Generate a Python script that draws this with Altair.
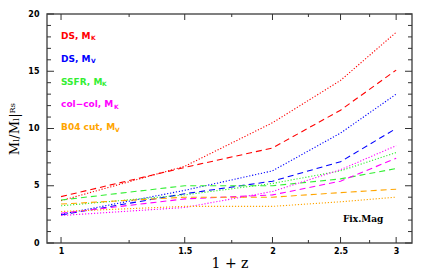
import altair as alt
import pandas as pd

zvals = [1.0, 1.5, 2.0, 2.5, 3.0]
series_names = ["DS_MK_dot", "DS_MK_dash", "DS_MV_dot", "DS_MV_dash", "SSFR_dash", "SSFR_dot",
                "col_dot", "col_dash", "B04_dash", "B04_dot"]
ds_mk_dot = [3.7, 6.7, 10.5, 14.2, 18.4]
ds_mk_dash = [4.05, 6.6, 8.3, 11.6, 15.1]
ds_mv_dot = [2.5, 4.6, 6.3, 9.6, 13.0]
ds_mv_dash = [2.45, 4.3, 5.4, 7.1, 10.0]
ssfr_dash = [3.75, 5.0, 5.0, 5.6, 6.5]
ssfr_dot = [3.25, 4.2, 5.2, 6.3, 7.9]
col_dot = [2.4, 3.1, 4.5, 6.4, 8.5]
col_dash = [2.6, 3.85, 4.2, 5.4, 7.4]
b04_dash = [3.4, 4.0, 4.0, 4.4, 4.7]
b04_dot = [2.75, 3.2, 3.2, 3.6, 4.0]
all_vals = [ds_mk_dot, ds_mk_dash, ds_mv_dot, ds_mv_dash, ssfr_dash, ssfr_dot,
            col_dot, col_dash, b04_dash, b04_dot]
colors = ["#ff0000", "#ff0000", "#0000ff", "#0000ff", "#33ee33", "#33ee33",
          "#ff00ff", "#ff00ff", "#ffa500", "#ffa500"]
dashes = [[1.2, 1.8], [6, 4], [1.2, 1.8], [6, 4], [6, 4], [1.2, 1.8],
          [1.2, 1.8], [6, 4], [6, 4], [1.2, 1.8]]

legend_main = ["DS, M", "DS, M", "SSFR, M", "col\u2212col, M", "B04 cut, M"]
legend_sub = ["K", "V", "K", "K", "V"]
legend_colors = ["#ff0000", "#0000ff", "#33ee33", "#ff00ff", "#ffa500"]
legend_y = [18.1, 16.1, 14.1, 12.1, 10.1]
legend_subdx = [30, 30, 41, 53, 54]

x_label_vals = [1, 1.5, 2, 2.5, 3]
x_tick_vals = [1, 1.25, 1.5, 1.75, 2, 2.25, 2.5, 2.75, 3]
x_major = [1, 1.5, 2, 2.5, 3]
y_tick_vals = list(range(0, 21))

W, H = 365, 229
xs = alt.Scale(type="log", domain=[0.955, 3.16], nice=False)
ys = alt.Scale(domain=[0, 20], nice=False)

rows = []
for name, vals in zip(series_names, all_vals):
    for z, v in zip(zvals, vals):
        rows.append({"s": name, "z": z, "v": v})
df = pd.DataFrame(rows)

layers = []
for name, c, d in zip(series_names, colors, dashes):
    layers.append(
        alt.Chart(df[df.s == name]).mark_line(color=c, strokeDash=d, strokeWidth=1.1)
        .encode(x=alt.X("z:Q", scale=xs), y=alt.Y("v:Q", scale=ys))
    )

base = alt.Chart(pd.DataFrame({"z": [1.0], "v": [0.0]})).mark_point(opacity=0).encode(
    x=alt.X("z:Q", scale=xs, axis=alt.Axis(values=x_label_vals, ticks=False, domain=False, grid=False,
                                            labelFont="DejaVu Sans", labelFontWeight="bold", labelFontSize=8,
                                            labelPadding=4, title="1 + z", titleFont="DejaVu Serif",
                                            titleFontSize=14, titleFontWeight="normal", titlePadding=1,
                                            format="~g", labelFlush=False)),
    y=alt.Y("v:Q", scale=ys, axis=alt.Axis(values=[0, 5, 10, 15, 20], ticks=False, domain=False, grid=False,
                                            labelFont="DejaVu Sans", labelFontWeight="bold", labelFontSize=8,
                                            labelPadding=8, title="M\u2097/M\u2097|\u1D3F\u02E2",
                                            titleFont="DejaVu Serif", titleFontSize=13,
                                            titleFontWeight="normal", titlePadding=6)),
)
layers.insert(0, base)

xt = pd.DataFrame({"z": x_tick_vals, "len": [6 if z in x_major else 3 for z in x_tick_vals]})
yt = pd.DataFrame({"v": y_tick_vals, "len": [7 if v % 5 == 0 else 4 for v in y_tick_vals]})

for major in [True, False]:
    L = 6 if major else 3
    sub = xt[xt.len == L]
    layers.append(alt.Chart(sub).mark_rule(color="#333", strokeWidth=1).encode(
        x=alt.X("z:Q", scale=xs), y=alt.value(H), y2=alt.value(H - L)))
    layers.append(alt.Chart(sub).mark_rule(color="#333", strokeWidth=1).encode(
        x=alt.X("z:Q", scale=xs), y=alt.value(0), y2=alt.value(L)))
    L2 = 7 if major else 4
    suby = yt[yt.len == L2]
    layers.append(alt.Chart(suby).mark_rule(color="#333", strokeWidth=1).encode(
        y=alt.Y("v:Q", scale=ys), x=alt.value(0), x2=alt.value(L2)))
    layers.append(alt.Chart(suby).mark_rule(color="#333", strokeWidth=1).encode(
        y=alt.Y("v:Q", scale=ys), x=alt.value(W), x2=alt.value(W - L2)))

leg = pd.DataFrame({"main": legend_main, "sub": legend_sub, "c": legend_colors,
                    "y": legend_y, "z": [1.0] * 5})
layers.append(alt.Chart(leg).mark_text(align="left", baseline="middle", font="DejaVu Sans",
                                       fontWeight="bold", fontSize=9).encode(
    x=alt.X("z:Q", scale=xs), y=alt.Y("y:Q", scale=ys), text="main:N",
    color=alt.Color("c:N", scale=None)))
for i in range(5):
    layers.append(alt.Chart(leg.iloc[[i]]).mark_text(align="left", baseline="middle", font="DejaVu Sans",
                                                     fontWeight="bold", fontSize=6, dx=legend_subdx[i], dy=2.5).encode(
        x=alt.X("z:Q", scale=xs), y=alt.Y("y:Q", scale=ys), text="sub:N",
        color=alt.Color("c:N", scale=None)))

note = pd.DataFrame({"z": [2.52], "v": [2.1], "t": ["Fix.Mag"]})
layers.append(alt.Chart(note).mark_text(align="left", baseline="middle", font="DejaVu Serif",
                                        fontWeight="bold", fontSize=9).encode(
    x=alt.X("z:Q", scale=xs), y=alt.Y("v:Q", scale=ys), text="t:N"))

chart = alt.layer(*layers).properties(
    width=W, height=H,
    autosize=alt.AutoSizeParams(type="none"),
    padding={"left": 39, "top": 6, "right": 8, "bottom": 30},
).configure_view(stroke="#555", strokeWidth=1.5)

chart.save("out.html", embed_options={"renderer": "svg", "actions": False})
